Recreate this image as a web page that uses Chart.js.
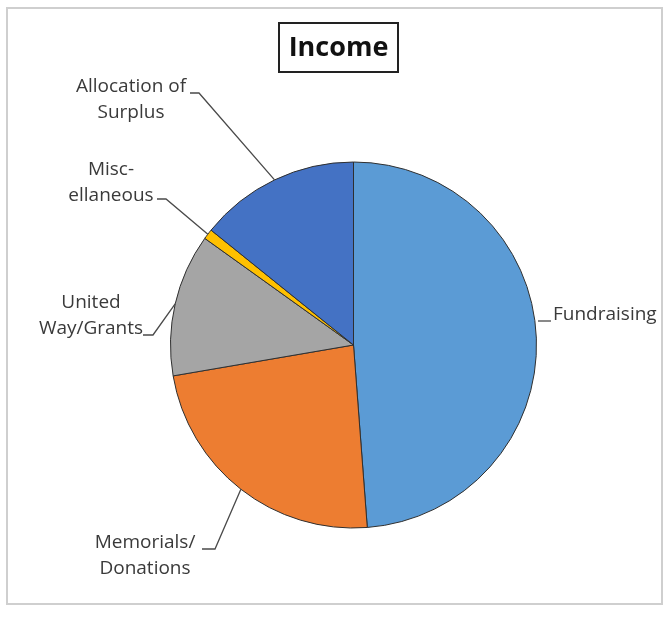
<!DOCTYPE html>
<html>
<head>
<meta charset="utf-8">
<script src="https://cdn.jsdelivr.net/npm/chart.js@4.4.1/dist/chart.umd.min.js"></script>
<style>
  html, body { margin: 0; padding: 0; background: #fff; }
  #wrap { width: 665px; height: 618px; position: relative; }
</style>
</head>
<body>
<div id="wrap"><canvas id="incomeChart" width="665" height="618"></canvas></div>
<script>
  // slices, clockwise from 12 o'clock (percent of income)
  const categories = ["Fundraising", "Memorials/Donations", "United Way/Grants", "Miscellaneous", "Allocation of Surplus"];
  const values = [48.8, 23.5, 12.6, 0.9, 14.2];
  const colors = ["#5b9bd5", "#ed7d31", "#a5a5a5", "#ffc000", "#4472c4"];

  // label text as it is broken on the picture
  const labelLines = [
    ["Fundraising"],
    ["Memorials/", "Donations"],
    ["United", "Way/Grants"],
    ["Misc-", "ellaneous"],
    ["Allocation of", "Surplus"]
  ];

  // where each label sits: text x, first line y, align, leader start / elbow
  const labelPlaces = [
    { x: 553, y: 315, align: "left", from: [538, 321], elbow: [551, 321], useArc: false },
    { x: 145, y: 543, align: "center", from: [202, 549], elbow: [215, 549], useArc: true },
    { x: 91, y: 303, align: "center", from: [143, 335], elbow: [153, 335], useArc: true },
    { x: 111, y: 170, align: "center", from: [157, 199], elbow: [166, 199], useArc: true },
    { x: 131, y: 87, align: "center", from: [190, 93], elbow: [199, 93], useArc: true }
  ];

  const labelFont = "19px 'Open Sans'";
  const lineGap = 26;

  const decorations = {
    id: "decorations",
    afterDraw(chart) {
      const ctx = chart.ctx;
      ctx.save();

      // outer frame
      ctx.strokeStyle = "#cfcfcf";
      ctx.lineWidth = 2;
      ctx.strokeRect(7, 8, 655, 596);

      // boxed title
      ctx.strokeStyle = "#222";
      ctx.lineWidth = 2;
      ctx.strokeRect(279, 23, 119, 49);
      ctx.fillStyle = "#111";
      ctx.font = "bold 27px 'Open Sans'";
      ctx.textAlign = "center";
      ctx.textBaseline = "middle";
      ctx.fillText("Income", 338.5, 48);

      // labels and leader lines
      const arcs = chart.getDatasetMeta(0).data;
      ctx.font = labelFont;
      ctx.fillStyle = "#3a3a3a";
      arcs.forEach((arc, i) => {
        const p = labelPlaces[i];
        ctx.textAlign = p.align;
        labelLines[i].forEach((line, j) => {
          ctx.fillText(line, p.x, p.y + j * lineGap);
        });

        ctx.strokeStyle = "#4a4a4a";
        ctx.lineWidth = 1.3;
        ctx.beginPath();
        ctx.moveTo(p.from[0], p.from[1]);
        ctx.lineTo(p.elbow[0], p.elbow[1]);
        if (p.useArc) {
          const mid = (arc.startAngle + arc.endAngle) / 2;
          ctx.lineTo(arc.x + Math.cos(mid) * arc.outerRadius, arc.y + Math.sin(mid) * arc.outerRadius);
        }
        ctx.stroke();
      });

      ctx.restore();
    }
  };

  new Chart(document.getElementById("incomeChart"), {
    type: "pie",
    data: {
      labels: categories,
      datasets: [{
        data: values,
        backgroundColor: colors,
        borderColor: "#2f2f2f",
        borderWidth: 1
      }]
    },
    options: {
      responsive: false,
      animation: false,
      devicePixelRatio: 1,
      layout: {
        padding: { left: 170, right: 128, top: 161, bottom: 89 }
      },
      plugins: {
        legend: { display: false },
        tooltip: { enabled: false },
        title: { display: false }
      }
    },
    plugins: [decorations]
  });
</script>
</body>
</html>
